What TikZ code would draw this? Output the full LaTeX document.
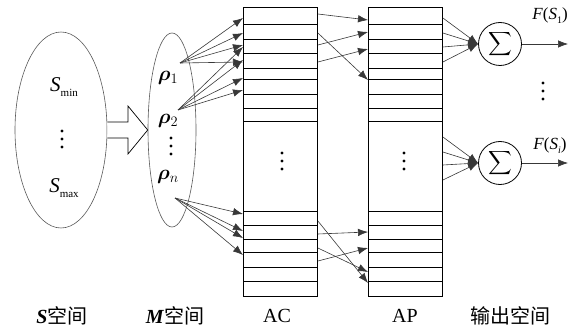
\documentclass[tikz,border=0pt]{standalone}
\usepackage{fontspec}
\setmainfont{Liberation Serif}
\newfontfamily\cjk{Noto Sans CJK SC}
\usepackage{bm}
\usetikzlibrary{arrows.meta,shapes.geometric,calc}
\begin{document}
\begin{tikzpicture}[x=1pt,y=-1pt,
  conn/.style={draw=black!78, line width=0.6pt, -{Latex[length=10pt,width=7.5pt]}},
  cellbox/.style={draw, line width=0.9pt, inner sep=0pt, anchor=north west, minimum width=74pt, minimum height=289pt},
  space/.style={draw=black!65, line width=0.6pt, ellipse, inner sep=0pt},
  big/.style={font=\fontsize{21}{21}\selectfont},
  lab/.style={font=\fontsize{20}{20}\selectfont},
  mid/.style={font=\fontsize{20}{20}\selectfont},
  fnode/.style={font=\fontsize{17}{17}\selectfont},
  sumnode/.style={draw, line width=0.8pt, circle, minimum size=43pt, inner sep=0pt},
  dot/.style={fill=black, circle, inner sep=0pt, minimum size=3.4pt}]
\useasboundingbox (0,0) rectangle (579,329);

% ellipses
\node[space, minimum width=92pt, minimum height=196pt] (S) at (61,130) {};
\node[space, minimum width=48pt, minimum height=194pt] (M) at (172,130) {};

\node[big] (smin) at (64,87) {\textit{S}\raisebox{-5pt}{\fontsize{11}{11}\selectfont min}};
\foreach \y [count=\i] in {131,139,147} \node[dot] (sd\i) at (62,\y) {};
\node[big] (smax) at (64,188) {\textit{S}\raisebox{-5pt}{\fontsize{11}{11}\selectfont max}};

\node[mid] (rho1) at (168,78) {$\bm{\rho}_1$};
\node[mid] (rho2) at (168,121) {$\bm{\rho}_2$};
\foreach \y [count=\i] in {138,146,154} \node[dot] (md\i) at (171,\y) {};
\node[mid] (rhon) at (168,177) {$\bm{\rho}_n$};

% hollow arrow
\draw[line width=0.7pt, fill=white] (S.east |- 0,122) -- (128,122) -- (128,106) -- (M.west) -- (128,154) -- (128,138) -- (S.east |- 0,138);

% AC and AP columns
\node[cellbox] (AC) at (243,7) {};
\node[cellbox] (AP) at (368,7) {};
\foreach \y in {24,39,53,68,79,94,108,121,211,225,239,252,267,281} {
  \draw[line width=0.8pt] (AC.west |- 0,\y) -- (AC.east |- 0,\y);
  \draw[line width=0.8pt] (AP.west |- 0,\y) -- (AP.east |- 0,\y);
}
\foreach \y [count=\i] in {153,161,169} {
  \node[dot] (acd\i) at (282,\y) {};
  \node[dot] (apd\i) at (404,\y) {};
}

% M -> AC
\coordinate (r1) at (180,63);
\coordinate (r2) at (178,110);
\coordinate (rn) at (175,198);
\foreach \y in {18,33,45,62} \draw[conn] (r1) -- (AC.west |- 0,\y);
\foreach \y in {47,60,78,90} \draw[conn] (r2) -- (AC.west |- 0,\y);
\foreach \y in {214,231,238,255} \draw[conn] (rn) -- (AC.west |- 0,\y);

% AC -> AP
\draw[conn] (AC.east |- 0,14) -- (AP.west |- 0,20);
\draw[conn] (AC.east |- 0,33) -- (AP.west |- 0,80);
\draw[conn] (AC.east |- 0,45) -- (AP.west |- 0,32);
\draw[conn] (AC.east |- 0,62) -- (AP.west |- 0,49);
\draw[conn] (AC.east |- 0,221) -- (AP.west |- 0,283);
\draw[conn] (AC.east |- 0,248) -- (AP.west |- 0,272);
\draw[conn] (AC.east |- 0,234) -- (AP.west |- 0,232);
\draw[conn] (AC.east |- 0,261) -- (AP.west |- 0,248);

% sums
\node[sumnode] (sum1) at (500,44) {\fontsize{12}{12}\selectfont\scalebox{1.65}{$\displaystyle\sum$}};
\node[sumnode] (sum2) at (500,163) {\fontsize{12}{12}\selectfont\scalebox{1.65}{$\displaystyle\sum$}};
\foreach \y in {18,33,47,62} \draw[conn] (AP.east |- 0,\y) -- (sum1.west);
\foreach \y in {137,152,165,180} \draw[conn] (AP.east |- 0,\y) -- (sum2.west);

\coordinate (out1) at (568,44);
\coordinate (out2) at (568,163);
\draw[conn] (sum1.east) -- (out1);
\draw[conn] (sum2.east) -- (out2);
\node[fnode] (f1) at (550,16) {\textit{F}(\textit{S}\raisebox{-4pt}{\fontsize{10}{10}\selectfont 1})};
\node[fnode] (fi) at (550,146) {\textit{F}(\textit{S}\raisebox{-4pt}{\fontsize{10}{10}\selectfont\itshape i})};
\foreach \y [count=\i] in {83,91,99} \node[dot] (od\i) at (543,\y) {};

% bottom labels
\node[lab] (ls) at (62,316) {\textit{\textbf{S}}{\cjk 空间}};
\node[lab] (lm) at (175,316) {\textit{\textbf{M}}{\cjk 空间}};
\node[lab] (lac) at (277,316) {AC};
\node[lab] (lap) at (405,316) {AP};
\node[lab] (lout) at (510,316) {\cjk 输出空间};
\end{tikzpicture}
\end{document}
